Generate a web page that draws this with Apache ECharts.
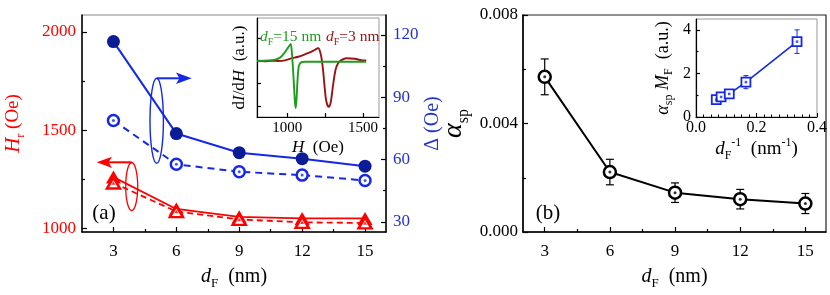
<!DOCTYPE html>
<html><head><meta charset="utf-8">
<script src="https://cdn.jsdelivr.net/npm/echarts@6/dist/echarts.min.js"></script>
<style>html,body{margin:0;padding:0;background:#fff}#c{width:830px;height:295px}</style>
</head><body><div id="c"></div>
<script>
// ---------------- data ----------------
const dF = [3, 6, 9, 12, 15];
const dFTicks = [3, 6, 9, 12, 15];
const dFMinorTicks = [4.5, 7.5, 10.5, 13.5];
const hrTicks = [1000, 1500, 2000];
const hrMinorTicks = [1250, 1750];
const deltaTicks = [30, 60, 90, 120];
const deltaMinorTicks = [45, 75, 105];
const hrFilled = [1262, 1100, 1060, 1052, 1052];
const hrOpen = [1232, 1087, 1047, 1032, 1029];
const deltaFilled = [116.8, 72.5, 63.3, 60.4, 56.8];
const deltaOpen = [78.8, 57.7, 54.1, 52.5, 49.9];
const alphaSp = [0.00572, 0.00221, 0.00145, 0.00121, 0.00105];
const alphaSpErr = [0.00066, 0.00047, 0.00036, 0.00036, 0.00037];
// inset (a): FMR derivative spectra
const hGreen = [800, 875, 919, 952, 980, 1007, 1022, 1031, 1037, 1044, 1050, 1055, 1061, 1068, 1077, 1094, 1116, 1200, 1300, 1400, 1520];
const sigGreen = [0, 0.02, 0.06, 0.15, 0.35, 0.62, 0.76, 0.3, -0.3, -1.1, -1.8, -2.1, -1.7, -0.8, -0.2, -0.05, -0.03, -0.03, -0.03, -0.03, -0.03];
const hRed = [800, 850, 897, 940, 985, 1028, 1072, 1116, 1160, 1193, 1204, 1215, 1226, 1237, 1247, 1258, 1274, 1287, 1302, 1318, 1335, 1357, 1390, 1445, 1488, 1521];
const sigRed = [0.01, -0.01, 0.01, 0.0, 0.03, 0.12, 0.19, 0.30, 0.42, 0.54, 0.58, 0.45, 0.12, -0.48, -1.22, -1.82, -2.05, -1.82, -1.07, -0.40, -0.10, 0.04, 0.12, 0.10, 0.04, 0.03];
const insetHTicks = [1000, 1250, 1500];
const insetHLabels = [1000, 1500];
const insetSigTicks = [-2, -1, 0, 1];
// inset (b)
const invDF = [0.067, 0.083, 0.110, 0.165, 0.334];
const alphaM = [0.80, 0.92, 1.06, 1.60, 3.46];
const alphaMErr = [0.10, 0.12, 0.13, 0.30, 0.54];
const insetBYTicks = [0, 2, 4];
const insetBYMinor = [1, 3];

// ---------------- styles ----------------
const SERIF = 'Liberation Serif';
const RED = '#ff0000', BLUE = '#1428e6', NAVY = '#0c1c96', LBLUE = '#2233cc';
const GREEN = '#1f9b1f', DRED = '#961414';

function rich(color, size, bigSize) {
  const b = bigSize || size;
  const s = Math.round(size * 0.65);
  return {
    n: {fontFamily: SERIF, fontSize: size, color: color, fill: color, lineHeight: Math.round(b * 1.3)},
    i: {fontFamily: SERIF, fontSize: b, fontStyle: 'italic', color: color, fill: color, lineHeight: Math.round(b * 1.3)},
    s: {fontFamily: SERIF, fontSize: s, color: color, fill: color, verticalAlign: 'bottom', lineHeight: s},
    u: {fontFamily: SERIF, fontSize: s, color: color, fill: color, verticalAlign: 'top', lineHeight: s}
  };
}
const plain = v => String(v);
function lbl(color, size, extra) {
  return Object.assign({fontFamily: SERIF, fontSize: size, color: color, margin: 7, formatter: plain}, extra || {});
}
function line(color, w) { return {show: true, onZero: false, lineStyle: {color: color || '#000', width: w || 1.5}}; }
function tick(vals, len) { return {show: true, inside: true, length: len || 5, customValues: vals, lineStyle: {color: '#000', width: 1.2}}; }
function minorAxis(base) {
  return Object.assign({type: 'value', axisLine: {show: false, onZero: false}, axisLabel: {show: false}, splitLine: {show: false}}, base);
}

function pairs(xs, ys) { return xs.map((x, i) => [x, ys[i]]); }
function triples(xs, ys, es) { return xs.map((x, i) => [x, ys[i], es[i]]); }

function errRender(color, cap, w) {
  return function (params, api) {
    const x = api.value(0), y = api.value(1), e = api.value(2);
    const t = api.coord([x, y + e]), b = api.coord([x, y - e]);
    const st = {stroke: color, lineWidth: w};
    return {type: 'group', children: [
      {type: 'line', shape: {x1: t[0], y1: t[1], x2: b[0], y2: b[1]}, style: st},
      {type: 'line', shape: {x1: t[0] - cap, y1: t[1], x2: t[0] + cap, y2: t[1]}, style: st},
      {type: 'line', shape: {x1: b[0] - cap, y1: b[1], x2: b[0] + cap, y2: b[1]}, style: st}
    ]};
  };
}

const chart = echarts.init(document.getElementById('c'), null, {renderer: 'canvas'});

const option = {
  animation: false,
  backgroundColor: '#fff',
  grid: [
    {left: 82, top: 15, width: 304, height: 218, show: true, borderColor: '#888', borderWidth: 1},
    {left: 523, top: 15, width: 303, height: 218, show: true, borderColor: '#222', borderWidth: 1.2},
    {left: 257, top: 18, width: 122, height: 99, show: true, borderColor: '#999', borderWidth: 1, backgroundColor: '#fff'},
    {left: 696, top: 19, width: 122, height: 98, show: true, borderColor: '#999', borderWidth: 1, backgroundColor: '#fff'}
  ],
  xAxis: [
    {type: 'value', gridIndex: 0, min: 1.5, max: 16, position: 'bottom', splitLine: {show: false},
     axisLine: line(), axisTick: tick(dFTicks), axisLabel: lbl('#000', 17, {customValues: dFTicks, margin: 11}),
     name: '{i|d}{s|F}{n|  (nm)}', nameLocation: 'middle', nameGap: 32,
     nameTextStyle: {rich: rich('#000', 20)}},
    minorAxis({gridIndex: 0, min: 1.5, max: 16, position: 'bottom', axisTick: tick(dFMinorTicks, 3)}),
    {type: 'value', gridIndex: 1, min: 2, max: 15.95, position: 'bottom', splitLine: {show: false},
     axisLine: line(), axisTick: tick(dFTicks), axisLabel: lbl('#000', 17, {customValues: dFTicks, margin: 11}),
     name: '{i|d}{s|F}{n|  (nm)}', nameLocation: 'middle', nameGap: 32,
     nameTextStyle: {rich: rich('#000', 20)}},
    minorAxis({gridIndex: 1, min: 2, max: 15.95, position: 'bottom', axisTick: tick(dFMinorTicks, 3)}),
    {type: 'value', gridIndex: 2, min: 800, max: 1605, position: 'bottom', splitLine: {show: false},
     axisLine: line('#000', 1.2), axisTick: tick(insetHTicks, 4), axisLabel: lbl('#000', 15, {customValues: insetHLabels, margin: 4}),
     name: '{i|H}{n|  (Oe)}', nameLocation: 'middle', nameGap: 20,
     nameTextStyle: {rich: rich('#000', 17)}},
    {type: 'value', gridIndex: 3, min: 0, max: 0.4, interval: 0.2, position: 'bottom', splitLine: {show: false},
     axisLine: line('#000', 1.2), axisTick: {show: true, inside: true, length: 4, lineStyle: {color: '#000'}},
     minorTick: {show: true, splitNumber: 8, length: 2.5, lineStyle: {color: '#000'}},
     axisLabel: lbl('#000', 16, {margin: 3, formatter: v => v.toFixed(1)}),
     name: '{i|d}{s|F}{u|-1}{n|  (nm}{u|-1}{n|)}', nameLocation: 'middle', nameGap: 17,
     nameTextStyle: {rich: rich('#000', 19)}}
  ],
  yAxis: [
    {type: 'value', gridIndex: 0, min: 983, max: 2086, position: 'left', splitLine: {show: false},
     axisLine: line(), axisTick: tick(hrTicks), axisLabel: lbl(RED, 17, {customValues: hrTicks, margin: 6}),
     name: '{i|H}{s|r}{n| (Oe)}', nameLocation: 'middle', nameRotate: 90, nameGap: 55,
     nameTextStyle: {rich: rich(RED, 19, 21)}},
    minorAxis({gridIndex: 0, min: 983, max: 2086, position: 'left', axisTick: tick(hrMinorTicks, 3)}),
    {type: 'value', gridIndex: 0, min: 25.1, max: 129.6, position: 'right', splitLine: {show: false},
     axisLine: line(), axisTick: tick(deltaTicks), axisLabel: lbl(LBLUE, 17, {customValues: deltaTicks, margin: 7}),
     name: '{n|Δ (Oe)}', nameLocation: 'middle', nameRotate: 90, nameGap: 32,
     nameTextStyle: {rich: rich(LBLUE, 20)}},
    minorAxis({gridIndex: 0, min: 25.1, max: 129.6, position: 'right', axisTick: tick(deltaMinorTicks, 3)}),
    {type: 'value', gridIndex: 1, min: 0, max: 0.008, interval: 0.004, position: 'left', splitLine: {show: false},
     axisLine: line(), axisTick: {show: true, inside: true, length: 5, lineStyle: {color: '#000', width: 1.2}},
     minorTick: {show: true, splitNumber: 2, length: 3, lineStyle: {color: '#000', width: 1.2}},
     axisLabel: lbl('#000', 17, {margin: 5, formatter: v => v.toFixed(3)}),
     name: '{i|α}{s|sp}', nameLocation: 'middle', nameRotate: 90, nameGap: 51,
     nameTextStyle: {rich: rich('#000', 24, 28)}},
    {type: 'value', gridIndex: 2, min: -2.5, max: 1.92, position: 'left', splitLine: {show: false},
     axisLine: line('#000', 1.2), axisTick: tick(insetSigTicks, 4), axisLabel: {show: false},
     name: '{n|d}{i|I}{n|/d}{i|H}{n|  (a.u.)}', nameLocation: 'middle', nameRotate: 90, nameGap: 6,
     nameTextStyle: {rich: rich('#000', 17)}},
    {type: 'value', gridIndex: 3, min: 0, max: 4.5, position: 'left', splitLine: {show: false},
     axisLine: line('#000', 1.2), axisTick: tick(insetBYTicks, 4), axisLabel: lbl('#000', 16, {customValues: insetBYTicks, margin: 5}),
     name: '{i|α}{s|sp}{n| }{i|M}{s|F}{n|  (a.u.)}', nameLocation: 'middle', nameRotate: 90, nameGap: 21,
     nameTextStyle: {rich: rich('#000', 18)}},
    minorAxis({gridIndex: 3, min: 0, max: 4.5, position: 'left', axisTick: tick(insetBYMinor, 2.5)})
  ],
  series: [
    // panel (a) : Delta
    {type: 'line', xAxisIndex: 0, yAxisIndex: 2, data: pairs(dF, deltaFilled), symbol: 'circle', symbolSize: 13,
     lineStyle: {color: BLUE, width: 2}, itemStyle: {color: NAVY}, z: 4},
    {type: 'line', xAxisIndex: 0, yAxisIndex: 2, data: pairs(dF, deltaOpen), symbol: 'circle', symbolSize: 11,
     lineStyle: {color: BLUE, width: 2, type: [7, 5]}, itemStyle: {color: '#fff', borderColor: BLUE, borderWidth: 2.5}, z: 4},
    {type: 'scatter', xAxisIndex: 0, yAxisIndex: 2, data: pairs(dF, deltaOpen), symbolSize: 3, itemStyle: {color: BLUE}, z: 6},
    // panel (a) : Hr
    {type: 'line', xAxisIndex: 0, yAxisIndex: 0, data: pairs(dF, hrFilled), symbol: 'triangle', symbolSize: [15, 13],
     lineStyle: {color: RED, width: 1.8}, itemStyle: {color: RED}, z: 4},
    {type: 'line', xAxisIndex: 0, yAxisIndex: 0, data: pairs(dF, hrOpen), symbol: 'triangle', symbolSize: [13, 11],
     lineStyle: {color: RED, width: 1.8, type: [6, 4]}, itemStyle: {color: '#fff', borderColor: RED, borderWidth: 2.5}, z: 5},
    {type: 'scatter', xAxisIndex: 0, yAxisIndex: 0, data: pairs(dF, hrOpen), symbol: 'triangle', symbolSize: [4, 3.5], itemStyle: {color: RED}, z: 6},
    // panel (b)
    {type: 'custom', xAxisIndex: 2, yAxisIndex: 4, data: triples(dF, alphaSp, alphaSpErr), renderItem: errRender('#000', 4, 1.2), encode: {x: 0, y: 1}, z: 2},
    {type: 'line', xAxisIndex: 2, yAxisIndex: 4, data: pairs(dF, alphaSp), symbol: 'circle', symbolSize: 12,
     lineStyle: {color: '#000', width: 2}, itemStyle: {color: '#fff', borderColor: '#000', borderWidth: 2.5}, z: 4},
    {type: 'scatter', xAxisIndex: 2, yAxisIndex: 4, data: pairs(dF, alphaSp), symbolSize: 3, itemStyle: {color: '#000'}, z: 6},
    // inset (a)
    {type: 'line', xAxisIndex: 4, yAxisIndex: 5, data: pairs(hRed, sigRed), showSymbol: false, smooth: 0.3,
     lineStyle: {color: DRED, width: 1.9}, z: 5},
    {type: 'line', xAxisIndex: 4, yAxisIndex: 5, data: pairs(hGreen, sigGreen), showSymbol: false, smooth: 0.3,
     lineStyle: {color: GREEN, width: 1.9}, z: 6},
    // inset (b)
    {type: 'custom', xAxisIndex: 5, yAxisIndex: 6, data: triples(invDF, alphaM, alphaMErr), renderItem: errRender(BLUE, 2.5, 1), encode: {x: 0, y: 1}, z: 4},
    {type: 'line', xAxisIndex: 5, yAxisIndex: 6, data: pairs(invDF, alphaM), symbol: 'rect', symbolSize: 9,
     lineStyle: {color: BLUE, width: 1.6}, itemStyle: {color: '#fff', borderColor: BLUE, borderWidth: 1.8}, z: 5},
    {type: 'scatter', xAxisIndex: 5, yAxisIndex: 6, data: pairs(invDF, alphaM), symbol: 'rect', symbolSize: 2.5, itemStyle: {color: BLUE}, z: 6}
  ],
  graphic: [
    {type: 'ellipse', shape: {cx: 156.7, cy: 120.8, rx: 6.7, ry: 42.5}, style: {fill: 'none', stroke: BLUE, lineWidth: 1.4}, z: 20},
    {type: 'polyline', shape: {points: [[156.7, 78.3], [180, 78.3]]}, style: {stroke: BLUE, lineWidth: 2}, z: 20},
    {type: 'polygon', shape: {points: [[176, 72.5], [191.7, 78.3], [176, 84.1], [179.5, 78.3]]}, style: {fill: BLUE}, z: 20},
    {type: 'ellipse', shape: {cx: 131.7, cy: 186.5, rx: 6, ry: 24}, style: {fill: 'none', stroke: RED, lineWidth: 1.3}, z: 20},
    {type: 'polyline', shape: {points: [[131.7, 162.3], [108, 162.3]]}, style: {stroke: RED, lineWidth: 2}, z: 20},
    {type: 'polygon', shape: {points: [[112, 156.7], [96.7, 162.3], [112, 167.9], [108.5, 162.3]]}, style: {fill: RED}, z: 20},
    {type: 'text', x: 104, y: 213, style: {text: '(a)', font: '21px "Liberation Serif"', fill: '#000', align: 'center', verticalAlign: 'middle'}, z: 20},
    {type: 'text', x: 548, y: 213, style: {text: '(b)', font: '21px "Liberation Serif"', fill: '#000', align: 'center', verticalAlign: 'middle'}, z: 20},
    {type: 'text', x: 260, y: 37, style: {text: '{i|d}{s|F}{n|=15 nm}', rich: rich(GREEN, 15.5), align: 'left', verticalAlign: 'middle'}, z: 20},
    {type: 'text', x: 326, y: 37, style: {text: '{i|d}{s|F}{n|=3 nm}', rich: rich(DRED, 15.5), align: 'left', verticalAlign: 'middle'}, z: 20}
  ]
};
chart.setOption(option);
</script>
</body></html>
